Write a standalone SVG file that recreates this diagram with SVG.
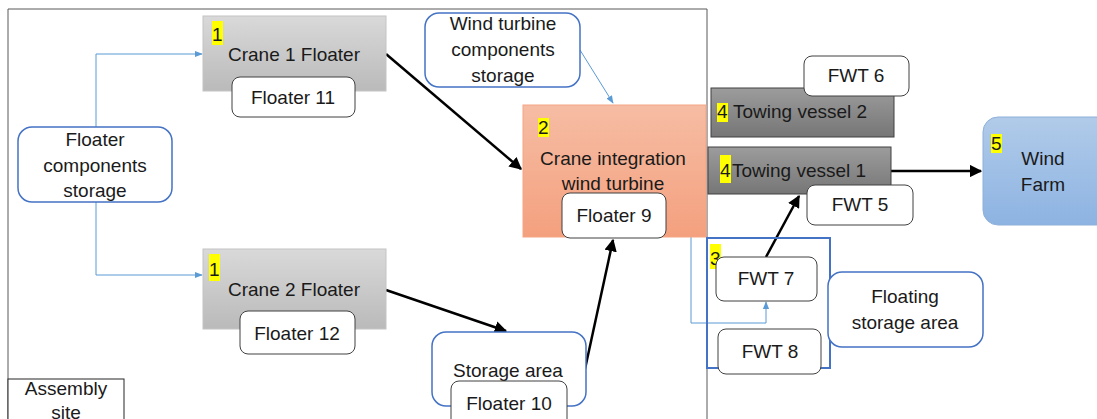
<svg xmlns="http://www.w3.org/2000/svg" width="1097" height="419" viewBox="0 0 1097 419">
  <defs>
    <linearGradient id="gGray" x1="0" y1="0" x2="0" y2="1">
      <stop offset="0" stop-color="#d9d9d9"/>
      <stop offset="1" stop-color="#bababa"/>
    </linearGradient>
    <linearGradient id="gDark" x1="0" y1="0" x2="0" y2="1">
      <stop offset="0" stop-color="#9c9c9c"/>
      <stop offset="1" stop-color="#767676"/>
    </linearGradient>
    <linearGradient id="gOrange" x1="0" y1="0" x2="0" y2="1">
      <stop offset="0" stop-color="#f6bda4"/>
      <stop offset="1" stop-color="#f4a07e"/>
    </linearGradient>
    <linearGradient id="gBlue" x1="0" y1="0" x2="0" y2="1">
      <stop offset="0" stop-color="#b1cbe9"/>
      <stop offset="1" stop-color="#8db3e2"/>
    </linearGradient>
    <marker id="arrBlack" viewBox="0 0 10 10" refX="9" refY="5" markerWidth="5" markerHeight="5" markerUnits="strokeWidth" orient="auto">
      <path d="M0,0 L10,5 L0,10 z" fill="#000"/>
    </marker>
    <marker id="arrBlue" viewBox="0 0 10 10" refX="9" refY="5" markerWidth="8" markerHeight="8" markerUnits="strokeWidth" orient="auto">
      <path d="M0,1 L10,5 L0,9 z" fill="#5b9bd5"/>
    </marker>
  </defs>
  <style>
    text { font-family: "Liberation Sans", Arial, sans-serif; font-size: 19px; fill: #1a1a1a; }
    .c { text-anchor: middle; }
    .hl { fill: #ffff00; }
    .gray { fill: url(#gGray); stroke: #c4c4c4; stroke-width: 1; }
    .dark { fill: url(#gDark); stroke: #404040; stroke-width: 1; }
    .white { fill: #fff; stroke: #404040; stroke-width: 1; }
    .blue { fill: #fff; stroke: #4472c4; stroke-width: 1.5; }
    .thick { fill: none; stroke: #000; stroke-width: 2.5; marker-end: url(#arrBlack); }
    .thin { fill: none; stroke: #5b9bd5; stroke-width: 1; marker-end: url(#arrBlue); }
    .frame { fill: none; stroke: #595959; stroke-width: 1; }
  </style>

  <rect width="1097" height="419" fill="#fff"/>

  <!-- assembly site frame -->
  <g id="assembly-site">
    <path class="frame" d="M8,419 V9 H707 V419"/>
    <rect x="8" y="379" width="116" height="45" fill="#fff" stroke="#262626" stroke-width="1"/>
    <text class="c" x="66" y="395">Assembly</text>
    <text class="c" x="66" y="419">site</text>
  </g>

  <!-- connectors -->
  <g id="connectors">
    <polyline class="thin" points="96,127 96,54 202,54"/>
    <polyline class="thin" points="96,202 96,275 202,275"/>
    <line class="thin" x1="580" y1="50" x2="613" y2="103"/>
    <polyline class="thin" points="666,218 691,218 691,323 766,323 766,302"/>
    <line class="thick" x1="386" y1="54" x2="521" y2="169"/>
    <line class="thick" x1="386" y1="290" x2="506" y2="331"/>
    <line class="thick" x1="585" y1="369" x2="613" y2="240"/>
    <line class="thick" x1="766" y1="257" x2="799" y2="196"/>
    <line class="thick" x1="891" y1="171" x2="981" y2="171"/>
  </g>

  <g id="floater-components-storage">
    <rect class="blue" x="18" y="127" width="154" height="75" rx="14"/>
    <text class="c" x="95" y="146">Floater</text>
    <text class="c" x="95" y="172">components</text>
    <text class="c" x="95" y="197">storage</text>
  </g>

  <g id="crane1">
    <rect class="gray" x="203" y="16" width="183" height="75"/>
    <rect class="hl" x="212" y="21" width="11" height="24"/>
    <text x="212" y="41">1</text>
    <text class="c" x="294" y="61">Crane 1 Floater</text>
  </g>
  <g id="floater11">
    <rect class="white" x="232" y="77" width="123" height="40" rx="8"/>
    <text class="c" x="293" y="104">Floater 11</text>
  </g>

  <g id="crane2">
    <rect class="gray" x="203" y="249" width="183" height="80"/>
    <rect class="hl" x="209" y="254" width="11" height="27"/>
    <text x="209" y="276">1</text>
    <text class="c" x="294" y="296">Crane 2 Floater</text>
  </g>
  <g id="floater12">
    <rect class="white" x="240" y="311" width="115" height="43" rx="8"/>
    <text class="c" x="297" y="340">Floater 12</text>
  </g>

  <g id="wind-turbine-components-storage">
    <rect class="blue" x="425" y="13" width="155" height="74" rx="14"/>
    <text class="c" x="503" y="30">Wind turbine</text>
    <text class="c" x="503" y="56">components</text>
    <text class="c" x="503" y="82">storage</text>
  </g>

  <g id="crane-integration">
    <rect x="523" y="105" width="183" height="132" fill="url(#gOrange)" stroke="#f4a583" stroke-width="1"/>
    <rect class="hl" x="538" y="118" width="11" height="19"/>
    <text x="538" y="134">2</text>
    <text class="c" x="613" y="165">Crane integration</text>
    <text class="c" x="613" y="190">wind turbine</text>
  </g>
  <g id="floater9">
    <rect class="white" x="562" y="193" width="104" height="45" rx="8"/>
    <text class="c" x="614" y="222">Floater 9</text>
  </g>

  <g id="storage-area">
    <rect class="blue" x="432" y="332" width="154" height="74" rx="14"/>
    <text class="c" x="508" y="377">Storage area</text>
  </g>
  <g id="floater10">
    <rect class="white" x="451" y="381" width="116" height="50" rx="8"/>
    <text class="c" x="509" y="410">Floater 10</text>
  </g>

  <g id="towing-vessel2">
    <rect class="dark" x="711" y="88" width="183" height="49"/>
    <rect class="hl" x="717" y="103" width="11" height="19"/>
    <text x="717" y="118">4</text>
    <text x="733" y="118">Towing vessel 2</text>
  </g>
  <g id="fwt6">
    <rect class="white" x="804" y="56" width="105" height="40" rx="8"/>
    <text class="c" x="856" y="82">FWT 6</text>
  </g>

  <g id="towing-vessel1">
    <rect class="dark" x="708" y="147" width="183" height="47"/>
    <rect class="hl" x="720" y="155" width="11" height="28"/>
    <text x="720" y="177">4</text>
    <text x="732" y="177">Towing vessel 1</text>
  </g>
  <g id="fwt5">
    <rect class="white" x="807" y="185" width="106" height="40" rx="8"/>
    <text class="c" x="860" y="211">FWT 5</text>
  </g>

  <g id="wind-farm">
    <rect x="983" y="117" width="130" height="108" rx="15" fill="url(#gBlue)" stroke="#8eb0da" stroke-width="1"/>
    <rect class="hl" x="991" y="134" width="11" height="19"/>
    <text x="991" y="150">5</text>
    <text class="c" x="1043" y="165">Wind</text>
    <text class="c" x="1043" y="191">Farm</text>
  </g>

  <g id="floating-storage-container">
    <rect x="707" y="238" width="123" height="130" fill="none" stroke="#4472c4" stroke-width="2"/>
    <rect class="hl" x="710" y="244" width="11" height="25"/>
    <text x="710" y="265">3</text>
  </g>
  <g id="fwt7">
    <rect class="white" x="716" y="257" width="101" height="44" rx="8"/>
    <text class="c" x="766" y="285">FWT 7</text>
  </g>
  <g id="fwt8">
    <rect class="white" x="718" y="329" width="103" height="45" rx="8"/>
    <text class="c" x="770" y="358">FWT 8</text>
  </g>
  <g id="floating-storage-area">
    <rect class="blue" x="828" y="272" width="155" height="75" rx="14"/>
    <text class="c" x="905" y="303">Floating</text>
    <text class="c" x="905" y="329">storage area</text>
  </g>
</svg>
